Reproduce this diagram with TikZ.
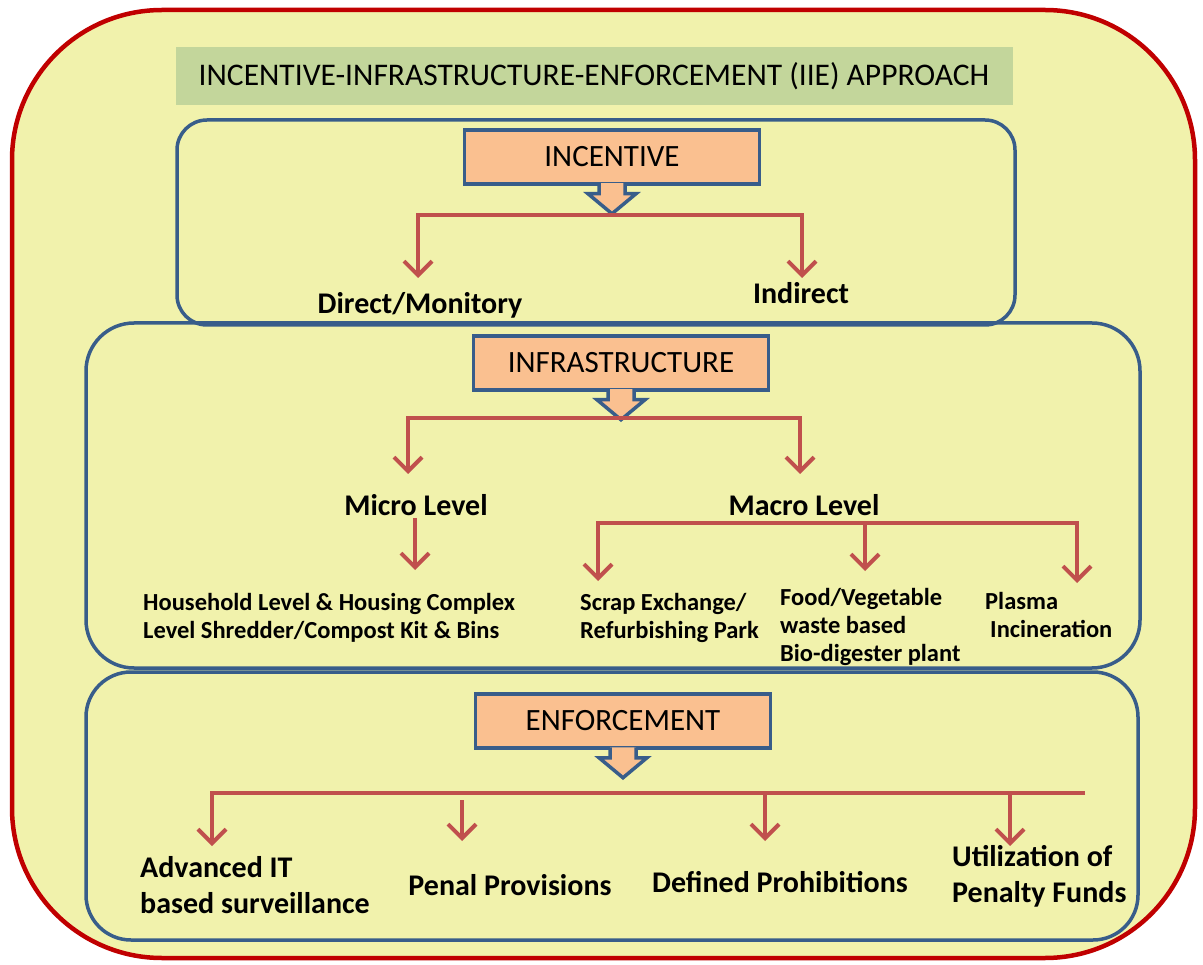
\documentclass[tikz,border=0pt]{standalone}
\usepackage{fontspec}
\setmainfont{Carlito}
\usetikzlibrary{arrows.meta,positioning,calc}
\definecolor{outerred}{RGB}{192,0,0}
\definecolor{paleyellow}{RGB}{241,242,172}
\definecolor{titlegreen}{RGB}{195,214,155}
\definecolor{panelblue}{RGB}{56,93,138}
\definecolor{calloutpeach}{RGB}{250,192,144}
\definecolor{branchred}{RGB}{192,80,77}

\begin{document}
\begin{tikzpicture}[x=1pt,y=-1pt,
  panel/.style={draw=panelblue, line width=3.5pt},
  callout/.style={draw=panelblue, fill=calloutpeach, line width=3.5pt,
                  minimum width=295pt, minimum height=54pt,
                  font=\fontsize{31}{35}\selectfont},
  callarrow/.style={draw=panelblue, fill=calloutpeach, line width=3.5pt},
  bar/.style={draw=branchred, line width=4pt},
  arrow/.style={bar, -{Straight Barb[length=14pt,width=28pt]}},
  both/.style={bar, {Straight Barb[length=14pt,width=28pt]}-{Straight Barb[length=14pt,width=28pt]}},
  itemtext/.style={font=\fontsize{30}{36}\bfseries\selectfont, align=left, inner sep=0pt},
  subtext/.style={font=\fontsize{24.5}{28}\bfseries\selectfont, align=left, inner sep=0pt}
]
\useasboundingbox (0,0) rectangle (1203,965);

% frame and panels
\draw[draw=outerred, fill=paleyellow, line width=4.5pt, rounded corners=150pt]
  (12,10) rectangle (1195,958);
\node[fill=titlegreen, minimum width=837pt, minimum height=58pt,
      font=\fontsize{31.5}{35}\selectfont] (title) at (594,76)
  {INCENTIVE-INFRASTRUCTURE-ENFORCEMENT (IIE) APPROACH};
\draw[panel, rounded corners=30pt] (177,120) rectangle (1015,325);
\draw[panel, rounded corners=48pt] (86,323) rectangle (1140,668);
\draw[panel, rounded corners=45pt] (86,672) rectangle (1138,940);

% callout boxes
\node[callout] (incentive) at (612,157) {INCENTIVE};
\node[callout] (infra) at (621,363) {INFRASTRUCTURE};
\node[callout] (enforce) at (623,721) {ENFORCEMENT};
\foreach \n in {incentive,infra,enforce} {
  \filldraw[callarrow] ($(\n.south)+(-13,-2.5)$) -- ($(\n.south)+(-13,8)$)
    -- ($(\n.south)+(-24,8)$) -- ($(\n.south)+(0,28)$)
    -- ($(\n.south)+(24,8)$) -- ($(\n.south)+(13,8)$)
    -- ($(\n.south)+(13,-2.5)$);
}

% incentive branches
\coordinate (incL) at (418,215);
\coordinate (incR) at (802,215);
\coordinate (incLt) at (418,278);
\coordinate (incRt) at (802,278);
\draw[both] (incLt) -- (incL) -- (incR) -- (incRt);
\node[itemtext] (direct) at (420,305) {Direct/Monitory};
\node[itemtext] (indirect) at (801,293) {Indirect};

% infrastructure branches
\coordinate (infL) at (408,418);
\coordinate (infR) at (800,418);
\coordinate (infLt) at (408,474);
\coordinate (infRt) at (800,474);
\draw[both] (infLt) -- (infL) -- (infR) -- (infRt);
\node[itemtext] (micro) at (416,505) {Micro Level};
\node[itemtext] (macro) at (804,505) {Macro Level};

\coordinate (micT) at (415,518);
\coordinate (micB) at (415,570);
\draw[arrow] (micT) -- (micB);
\node[subtext, anchor=west] (household) at (143,618)
  {Household Level \& Housing Complex\\Level Shredder/Compost Kit \& Bins};

\coordinate (macA) at (598,523);
\coordinate (macB) at (865,523);
\coordinate (macC) at (1077,523);
\coordinate (macAt) at (598,581);
\coordinate (macBt) at (865,571);
\coordinate (macCt) at (1077,583);
\draw[both] (macAt) -- (macA) -- (macC) -- (macCt);
\draw[arrow] (macB) -- (macBt);
\node[subtext, anchor=west] (scrap) at (580,618)
  {Scrap Exchange/\\Refurbishing Park};
\node[subtext, anchor=west] (food) at (780,627)
  {Food/Vegetable\\waste based\\Bio-digester plant};
\node[subtext, anchor=west] (plasma) at (985,615)
  {Plasma\\\hspace*{5pt}Incineration};

% enforcement branches
\coordinate (enfA) at (212,793);
\coordinate (enfE) at (1085,793);
\coordinate (enfAt) at (212,846);
\coordinate (enfB) at (462,800);
\coordinate (enfBt) at (462,841);
\coordinate (enfC) at (765,793);
\coordinate (enfCt) at (765,841);
\coordinate (enfD) at (1010,793);
\coordinate (enfDt) at (1010,846);
\draw[arrow] (enfE) -- (enfA) -- (enfAt);
\foreach \p in {B,C,D} {
  \draw[arrow] (enf\p) -- (enf\p t);
}
\node[itemtext, anchor=west] (advanced) at (140,885)
  {Advanced IT\\based surveillance};
\node[itemtext] (penal) at (510,885) {Penal Provisions};
\node[itemtext] (defined) at (780,882) {Defined Prohibitions};
\node[itemtext, anchor=west] (utilization) at (952,876)
  {Utilization of\\Penalty Funds};
\end{tikzpicture}
\end{document}
